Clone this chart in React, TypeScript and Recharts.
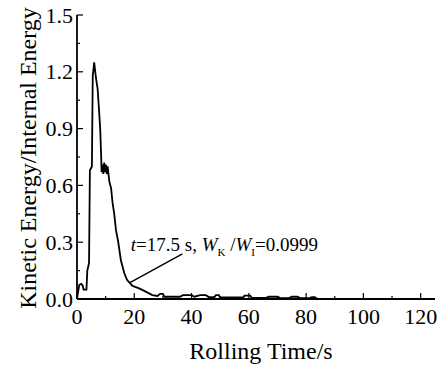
import React from "react";
import {
  LineChart, Line, XAxis, YAxis, ReferenceLine, ReferenceDot, Label,
} from "recharts";

// Rolling time (s) and kinetic/internal energy ratio
const TIME = [
  0, 0.3, 0.8, 1.5, 2.0, 2.3, 3.3, 3.6, 4.2, 4.5, 5.2, 5.5, 5.8, 6.0, 6.3, 6.6,
  7.2, 7.6, 8.1, 8.4, 8.6, 8.9, 9.2, 9.5, 9.8, 10.1, 10.4, 10.7, 11.3, 11.9,
  12.4, 13.0, 13.6, 14.4, 15.3, 16.5, 17.5, 19.4, 21.7, 24.0, 26.3, 28.1, 29.0,
  30.0, 30.5, 36, 37, 40, 41, 43, 45, 46, 48, 48.5, 49.5, 50, 58, 58.5, 60.5,
  61, 66, 67, 70, 71, 74, 75, 77, 78, 81, 82, 83, 84,
];
const RATIO = [
  0, 0.03, 0.075, 0.08, 0.07, 0.05, 0.05, 0.15, 0.19, 0.68, 0.7, 1.18, 1.22,
  1.25, 1.21, 1.17, 1.11, 1.02, 0.9, 0.77, 0.67, 0.71, 0.66, 0.72, 0.67, 0.71,
  0.66, 0.7, 0.62, 0.585, 0.51, 0.45, 0.365, 0.3, 0.206, 0.137, 0.0999, 0.069,
  0.056, 0.039, 0.021, 0.016, 0.027, 0.027, 0.012, 0.012, 0.02, 0.02, 0.012,
  0.02, 0.02, 0.01, 0.01, 0.02, 0.02, 0.008, 0.008, 0.018, 0.018, 0.006, 0.006,
  0.012, 0.012, 0.005, 0.005, 0.012, 0.012, 0.004, 0.004, 0.01, 0.01, 0,
];

const X_TICKS = [0, 10, 20, 30, 40, 50, 60, 70, 80, 90, 100, 110, 120];
const Y_TICKS = [0, 0.15, 0.3, 0.45, 0.6, 0.75, 0.9, 1.05, 1.2, 1.35, 1.5];

// annotation: leader line and label anchor (data coordinates)
const LEADER = [{ x: 18.5, y: 0.086 }, { x: 36.8, y: 0.238 }];
const NOTE_AT = { x: 18.8, y: 0.254 };

const FONT =
  "'Liberation Serif', 'Times New Roman', Times, Tinos, 'Nimbus Roman', 'Noto Serif', 'DejaVu Serif', FreeSerif, serif";
const INK = "#000";
const txt = (size: number) => ({ fontFamily: FONT, fontSize: size });

const rows = TIME.map((t, i) => ({ t, r: RATIO[i] }));

const isMajorX = (v: number) => v % 20 === 0;
const isMajorY = (v: number) => Math.round(v * 100) % 30 === 0;

function BottomTick({ x, y, payload }: any) {
  const major = isMajorX(payload.value);
  return (
    <g>
      <line x1={x} x2={x} y1={y} y2={y - (major ? 6 : 3)} stroke={INK} strokeWidth={1.2} />
      {major && (
        <text x={x} y={y + 25} textAnchor="middle" style={txt(22)} fill={INK}>
          {payload.value}
        </text>
      )}
    </g>
  );
}

function TopTick({ x, y, payload }: any) {
  const major = isMajorX(payload.value);
  return <line x1={x} x2={x} y1={y} y2={y + (major ? 6 : 3)} stroke={INK} strokeWidth={1.2} />;
}

function LeftTick({ x, y, payload }: any) {
  const major = isMajorY(payload.value);
  return (
    <g>
      <line x1={x} x2={x + (major ? 6 : 3)} y1={y} y2={y} stroke={INK} strokeWidth={1.2} />
      {major && (
        <text x={x - 4} y={y + 7.5} textAnchor="end" style={txt(22)} fill={INK}>
          {Number(payload.value).toFixed(1)}
        </text>
      )}
    </g>
  );
}

function RightTick({ x, y, payload }: any) {
  const major = isMajorY(payload.value);
  return <line x1={x} x2={x - (major ? 6 : 3)} y1={y} y2={y} stroke={INK} strokeWidth={1.2} />;
}

function NoteText({ viewBox }: any) {
  const { x, y } = viewBox;
  return (
    <text x={x} y={y} style={txt(19)} fill={INK}>
      <tspan fontStyle="italic">t</tspan>
      <tspan>{"=17.5 s, "}</tspan>
      <tspan fontStyle="italic">W</tspan>
      <tspan style={{ fontSize: 11 }} dy={5}>K</tspan>
      <tspan dy={-5}>{" /"}</tspan>
      <tspan fontStyle="italic">W</tspan>
      <tspan style={{ fontSize: 11 }} dy={5}>I</tspan>
      <tspan dy={-5}>{"=0.0999"}</tspan>
    </text>
  );
}

export default function App() {
  return (
    <div style={{ position: "absolute", left: 0, top: 0, width: 444, height: 367, background: "#fff" }}>
      <LineChart width={444} height={367} data={rows} margin={{ top: 15, right: 9, bottom: 0, left: 0 }}>
        <XAxis
          xAxisId="bottom" dataKey="t" type="number" domain={[0, 125]} ticks={X_TICKS}
          interval={0} tickLine={false} tickSize={0} tickMargin={0} height={68}
          axisLine={{ stroke: INK, strokeWidth: 1.8 }} tick={BottomTick} allowDataOverflow
        >
          <Label
            content={() => (
              <text x={261} y={359} textAnchor="middle" style={txt(24)} fill={INK}>
                Rolling Time/s
              </text>
            )}
          />
        </XAxis>
        <XAxis
          xAxisId="top" orientation="top" type="number" domain={[0, 125]} ticks={X_TICKS}
          interval={0} tickLine={false} tickSize={0} tickMargin={0} height={0}
          axisLine={{ stroke: INK, strokeWidth: 1.8 }} tick={TopTick} allowDataOverflow
        />
        <YAxis
          yAxisId="left" type="number" domain={[0, 1.5]} ticks={Y_TICKS} interval={0}
          tickLine={false} tickSize={0} tickMargin={0} width={77}
          axisLine={{ stroke: INK, strokeWidth: 1.8 }} tick={LeftTick} allowDataOverflow
        >
          <Label
            content={() => (
              <text
                x={28} y={158} transform="rotate(-90 28 158)" textAnchor="middle"
                dominantBaseline="central" style={txt(24)} fill={INK}
              >
                Kinetic Energy/Internal Energy
              </text>
            )}
          />
        </YAxis>
        <YAxis
          yAxisId="right" orientation="right" type="number" domain={[0, 1.5]} ticks={Y_TICKS}
          interval={0} tickLine={false} tickSize={0} tickMargin={0} width={0}
          axisLine={{ stroke: INK, strokeWidth: 1.8 }} tick={RightTick} allowDataOverflow
        />
        <Line
          xAxisId="bottom" yAxisId="left" type="linear" dataKey="r" stroke={INK}
          strokeWidth={1.8} dot={false} isAnimationActive={false}
        />
        <ReferenceLine
          xAxisId="bottom" yAxisId="left" segment={LEADER} stroke={INK} strokeWidth={1.4}
        />
        <ReferenceDot
          xAxisId="bottom" yAxisId="left" x={NOTE_AT.x} y={NOTE_AT.y} r={0}
          fill="none" stroke="none" label={NoteText}
        />
      </LineChart>
    </div>
  );
}
